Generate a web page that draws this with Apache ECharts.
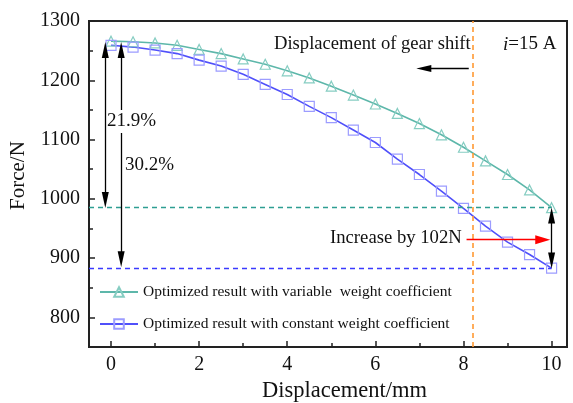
<!DOCTYPE html>
<html>
<head>
<meta charset="utf-8">
<script src="https://cdn.jsdelivr.net/npm/echarts@6/dist/echarts.min.js"></script>
<style>html,body{margin:0;padding:0;background:#fff;}#c{width:573px;height:403px;}</style>
</head>
<body>
<div id="c"></div>
<script>
// ---- data ----
var displacement = [0,0.5,1,1.5,2,2.5,3,3.5,4,4.5,5,5.5,6,6.5,7,7.5,8,8.5,9,9.5,10];
var variableWeight = [1266,1265,1263,1259,1252,1245,1236,1227,1216,1204,1190,1175,1160,1144,1127,1108,1087,1064,1041,1015,985];
var constantWeight = [1259,1256,1251,1245,1234,1224,1210,1193,1176,1156,1137,1116,1095,1067,1041,1013,984,954,927,906,883];
var xTicks = [0,2,4,6,8,10];
var xMinorTicks = [1,3,5,7,9];
var yTicks = [800,900,1000,1100,1200,1300];
var yMinorTicks = [850,950,1050,1150,1250];
var seriesNames = ['Optimized result with variable  weight coefficient','Optimized result with constant weight coefficient'];
var gearShiftX = 8.2;

var FONT = 'Liberation Serif';
function pairs(xs, ys){ return xs.map(function(x,i){return [x, ys[i]];}); }
var vEnd = variableWeight[variableWeight.length-1];
var cEnd = constantWeight[constantWeight.length-1];
var vStart = variableWeight[0];

function arrowLine(p1, p2, syms, color, size){
  return [{coord:p1, symbol:syms[0], symbolSize:size, lineStyle:{color:color,type:'solid',width:1.3}},
          {coord:p2, symbol:syms[1], symbolSize:size}];
}

var chart = echarts.init(document.getElementById('c'), null, {renderer:'canvas'});
var option = {
  animation:false,
  backgroundColor:'#fff',
  grid:{left:89, top:21, right:6, bottom:56, show:true, borderColor:'#222', borderWidth:2, containLabel:false, outerBoundsMode:'none'},
  legend:{
    orient:'vertical', left:99, top:284, padding:0, itemWidth:38, itemHeight:12, itemGap:16,
    data:seriesNames,
    textStyle:{fontFamily:FONT, fontSize:15.5, color:'#111'}
  },
  xAxis:[{
    type:'value', min:-0.5, max:10.35,
    axisLine:{onZero:false, lineStyle:{color:'#222', width:2}},
    axisTick:{inside:true, length:6, lineStyle:{color:'#222', width:1.5}, customValues:xTicks},
    axisLabel:{customValues:xTicks, margin:8, fontFamily:FONT, fontSize:20, color:'#111'},
    splitLine:{show:false}
  },{
    type:'value', min:-0.5, max:10.35, position:'bottom',
    axisLine:{show:false, onZero:false},
    axisTick:{inside:true, length:4, lineStyle:{color:'#222', width:1.5}, customValues:xMinorTicks},
    axisLabel:{show:false}, splitLine:{show:false}
  }],
  yAxis:[{
    type:'value', min:750, max:1300,
    axisLine:{show:true, onZero:false, lineStyle:{color:'#222', width:2}},
    axisTick:{show:true, inside:true, length:6, lineStyle:{color:'#222', width:1.5}, customValues:yTicks},
    axisLabel:{customValues:yTicks, margin:9, fontFamily:FONT, fontSize:20, color:'#111', formatter:function(v){return String(v);}},
    splitLine:{show:false}
  },{
    type:'value', min:750, max:1300, position:'left',
    axisLine:{show:false, onZero:false},
    axisTick:{show:true, inside:true, length:4, lineStyle:{color:'#222', width:1.5}, customValues:yMinorTicks},
    axisLabel:{show:false}, splitLine:{show:false}
  }],
  series:[
    {
      name:seriesNames[0], type:'line', data:pairs(displacement, variableWeight),
      symbol:'triangle', symbolSize:10, z:3,
      lineStyle:{color:'#5db7aa', width:1.6},
      itemStyle:{color:'rgba(255,255,255,0)', borderColor:'#86cdc2', borderWidth:1.2},
      markLine:{
        silent:true, animation:false, label:{show:false}, symbol:['none','none'],
        data:[
          [{coord:[-0.5, vEnd], lineStyle:{color:'#2e9e92', type:[5,4], width:1.3}}, {coord:[10, vEnd]}],
          [{coord:[-0.5, cEnd], lineStyle:{color:'#3a3aff', type:[5,4], width:1.3}}, {coord:[10, cEnd]}],
          [{coord:[gearShiftX, 750], lineStyle:{color:'#ff9933', type:[5,4], width:1.6}}, {coord:[gearShiftX, 1300]}],
          arrowLine([-0.13, vStart-2-13], [-0.13, vEnd+13], ['triangle','triangle'], '#000', [7,16]),
          arrowLine([0.23, vStart-2-13], [0.23, cEnd+2+13], ['triangle','triangle'], '#000', [7,16]),
          arrowLine([8.12, 1220], [6.93+0.17, 1220], ['none','triangle'], '#000', [7,15]),
          [{coord:[8.07, 931], symbol:'none', lineStyle:{color:'#ff0000', type:'solid', width:1.3}},
           {coord:[9.97-0.17, 931], symbol:'triangle', symbolSize:[9,15], itemStyle:{color:'#ff0000'}}],
          arrowLine([10, vEnd-13], [10, cEnd+13], ['triangle','triangle'], '#000', [7,16])
        ]
      }
    },
    {
      name:seriesNames[1], type:'line', data:pairs(displacement, constantWeight),
      symbol:'rect', symbolSize:10, z:3,
      lineStyle:{color:'#5050fa', width:1.6},
      itemStyle:{color:'rgba(255,255,255,0)', borderColor:'#9c9cff', borderWidth:1.2}
    }
  ],
  graphic:[
    {type:'text', z:100, left:107, top:110, style:{text:'21.9%', fontFamily:FONT, fontSize:19, fill:'#111', backgroundColor:'#fff', padding:[2,0,2,0]}},
    {type:'text', z:100, left:125, top:156, style:{text:'30.2%', fontFamily:FONT, fontSize:19, fill:'#111'}},
    {type:'text', z:100, left:274, top:35, style:{text:'Displacement of gear shift', fontFamily:FONT, fontSize:18.6, fill:'#111'}},
    {type:'text', z:100, left:503, top:35, style:{text:'{it|i}=15 A', fontFamily:FONT, fontSize:19, fill:'#111', rich:{it:{fontFamily:FONT, fontStyle:'italic', fontSize:19, fill:'#111'}}}},
    {type:'text', z:100, left:330, top:229, style:{text:'Increase by 102N', fontFamily:FONT, fontSize:18.7, fill:'#111'}},
    {type:'text', z:100, left:262, top:380, style:{text:'Displacement/mm', fontFamily:FONT, fontSize:22.5, fill:'#111'}},
    {type:'text', z:100, x:8, y:210, rotation:Math.PI/2, style:{text:'Force/N', fontFamily:FONT, fontSize:21, fill:'#111'}}
  ]
};
chart.setOption(option);
</script>
</body>
</html>
